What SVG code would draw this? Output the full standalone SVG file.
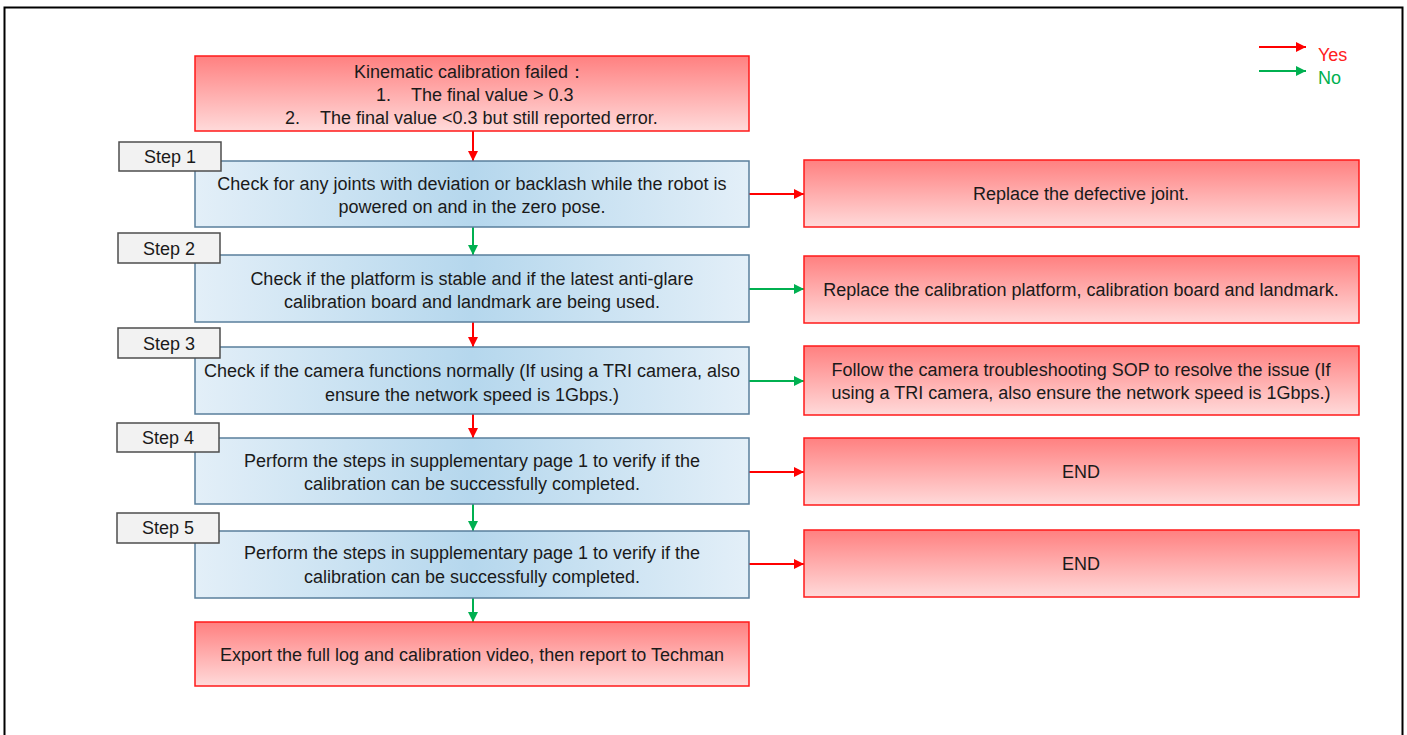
<svg xmlns="http://www.w3.org/2000/svg" width="1407" height="735" viewBox="0 0 1407 735">
  <style>
    text { font-family: "Liberation Sans", Arial, sans-serif; fill: #1a1a1a; }
    .t { font-size: 18px; text-anchor: middle; }
    .n { font-size: 18px; }
    .lbl { font-size: 18px; text-anchor: middle; }
    .blue { fill: url(#gBlue); stroke: #5a7f9c; stroke-width: 1.5; }
    .red { fill: url(#gRed); stroke: #ff1a1a; stroke-width: 1.5; }
    .step { fill: #f2f2f2; stroke: #4d4d4d; stroke-width: 1.5; }
    .yes { stroke: #ff0000; stroke-width: 2; fill: none; marker-end: url(#arrRed); }
    .no { stroke: #00b050; stroke-width: 2; fill: none; marker-end: url(#arrGreen); }
  </style>
  <defs>
    <linearGradient id="gBlue" x1="0" y1="0" x2="1" y2="0">
      <stop offset="0" stop-color="#e3eff8"/>
      <stop offset="0.5" stop-color="#b5d7ed"/>
      <stop offset="1" stop-color="#e3eff8"/>
    </linearGradient>
    <linearGradient id="gRed" x1="0" y1="0" x2="0" y2="1">
      <stop offset="0" stop-color="#ff8080"/>
      <stop offset="1" stop-color="#ffdada"/>
    </linearGradient>
    <marker id="arrRed" viewBox="0 0 10 10" refX="10" refY="5" markerWidth="11" markerHeight="10" markerUnits="userSpaceOnUse" orient="auto">
      <path d="M0,0 L10,5 L0,10 Z" fill="#ff0000"/>
    </marker>
    <marker id="arrGreen" viewBox="0 0 10 10" refX="10" refY="5" markerWidth="11" markerHeight="10" markerUnits="userSpaceOnUse" orient="auto">
      <path d="M0,0 L10,5 L0,10 Z" fill="#00b050"/>
    </marker>
  </defs>

  <rect x="0" y="0" width="1407" height="735" fill="#ffffff"/>
  <!-- page frame -->
  <rect x="4.5" y="7.5" width="1398" height="740" fill="none" stroke="#000" stroke-width="2"/>

  <!-- legend -->
  <g id="legend">
    <line class="yes" x1="1259" y1="47" x2="1306" y2="47"/>
    <line class="no" x1="1259" y1="71" x2="1306" y2="71"/>
    <text x="1318" y="61" font-size="18" style="fill:#ff2020">Yes</text>
    <text x="1318" y="84" font-size="18" style="fill:#00b050">No</text>
  </g>

  <!-- connectors -->
  <g id="connectors">
    <line class="yes" x1="473" y1="131" x2="473" y2="161"/>
    <line class="no" x1="473" y1="227" x2="473" y2="255"/>
    <line class="yes" x1="473" y1="322" x2="473" y2="347"/>
    <line class="yes" x1="473" y1="414" x2="473" y2="438"/>
    <line class="no" x1="473" y1="504" x2="473" y2="531"/>
    <line class="no" x1="473" y1="598" x2="473" y2="622"/>
    <line class="yes" x1="749" y1="194" x2="804" y2="194"/>
    <line class="no" x1="749" y1="289" x2="804" y2="289"/>
    <line class="no" x1="749" y1="381" x2="804" y2="381"/>
    <line class="yes" x1="749" y1="472" x2="804" y2="472"/>
    <line class="yes" x1="749" y1="564" x2="804" y2="564"/>
  </g>

  <!-- start -->
  <g id="start">
    <rect class="red" x="195" y="56" width="554" height="75"/>
    <text class="t" x="470" y="78">Kinematic calibration failed：</text>
    <text class="n" x="376" y="101">1.</text>
    <text class="n" x="411" y="101">The final value &gt; 0.3</text>
    <text class="n" x="285" y="124">2.</text>
    <text class="n" x="320" y="124">The final value &lt;0.3 but still reported error.</text>
  </g>

  <!-- step 1 -->
  <g id="step1">
    <rect class="blue" x="195" y="161" width="554" height="66"/>
    <rect class="step" x="119" y="142" width="102" height="29"/>
    <text class="lbl" x="170" y="163">Step 1</text>
    <text class="t" x="472" y="190">Check for any joints with deviation or backlash while the robot is</text>
    <text class="t" x="472" y="213">powered on and in the zero pose.</text>
  </g>
  <g id="fix1">
    <rect class="red" x="804" y="160" width="555" height="67"/>
    <text class="t" x="1081" y="200">Replace the defective joint.</text>
  </g>

  <!-- step 2 -->
  <g id="step2">
    <rect class="blue" x="195" y="255" width="554" height="67"/>
    <rect class="step" x="118" y="233" width="102" height="30"/>
    <text class="lbl" x="169" y="255">Step 2</text>
    <text class="t" x="472" y="285">Check if the platform is stable and if the latest anti-glare</text>
    <text class="t" x="472" y="308">calibration board and landmark are being used.</text>
  </g>
  <g id="fix2">
    <rect class="red" x="804" y="256" width="555" height="67"/>
    <text class="t" x="1081" y="296">Replace the calibration platform, calibration board and landmark.</text>
  </g>

  <!-- step 3 -->
  <g id="step3">
    <rect class="blue" x="195" y="347" width="554" height="67"/>
    <rect class="step" x="118" y="328" width="102" height="30"/>
    <text class="lbl" x="169" y="350">Step 3</text>
    <text class="t" x="472" y="377">Check if the camera functions normally (If using a TRI camera, also</text>
    <text class="t" x="472" y="401">ensure the network speed is 1Gbps.)</text>
  </g>
  <g id="fix3">
    <rect class="red" x="804" y="346" width="555" height="69"/>
    <text class="t" x="1081" y="376">Follow the camera troubleshooting SOP to resolve the issue (If</text>
    <text class="t" x="1081" y="399">using a TRI camera, also ensure the network speed is 1Gbps.)</text>
  </g>

  <!-- step 4 -->
  <g id="step4">
    <rect class="blue" x="195" y="438" width="554" height="66"/>
    <rect class="step" x="117" y="423" width="102" height="29"/>
    <text class="lbl" x="168" y="444">Step 4</text>
    <text class="t" x="472" y="467">Perform the steps in supplementary page 1 to verify if the</text>
    <text class="t" x="472" y="490">calibration can be successfully completed.</text>
  </g>
  <g id="end4">
    <rect class="red" x="804" y="438" width="555" height="67"/>
    <text class="t" x="1081" y="478">END</text>
  </g>

  <!-- step 5 -->
  <g id="step5">
    <rect class="blue" x="195" y="531" width="554" height="67"/>
    <rect class="step" x="117" y="513" width="102" height="30"/>
    <text class="lbl" x="168" y="534">Step 5</text>
    <text class="t" x="472" y="559">Perform the steps in supplementary page 1 to verify if the</text>
    <text class="t" x="472" y="583">calibration can be successfully completed.</text>
  </g>
  <g id="end5">
    <rect class="red" x="804" y="530" width="555" height="67"/>
    <text class="t" x="1081" y="570">END</text>
  </g>

  <!-- final -->
  <g id="report">
    <rect class="red" x="195" y="622" width="554" height="64"/>
    <text class="t" x="472" y="661">Export the full log and calibration video, then report to Techman</text>
  </g>
</svg>
